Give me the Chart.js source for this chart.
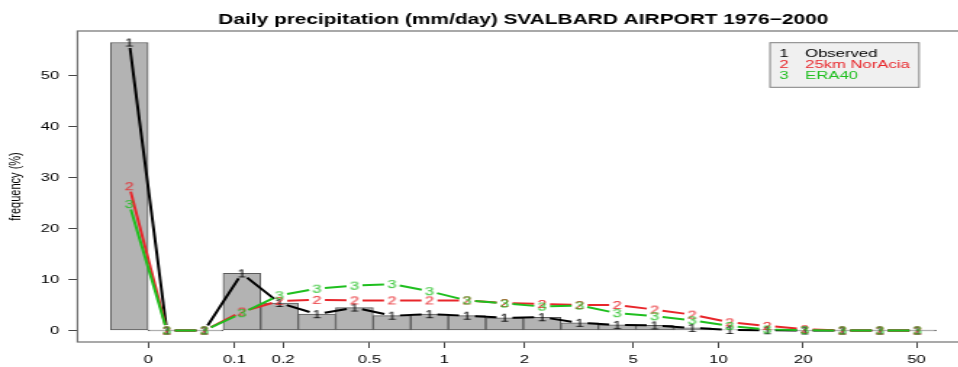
<!DOCTYPE html>
<html>
<head>
<meta charset="utf-8">
<script src="https://cdn.jsdelivr.net/npm/chart.js@4"></script>
<style>
  html, body { margin: 0; padding: 0; overflow: hidden; background: #fff; }
  /* the original R png was stretched sideways, so the whole chart is too */
  #wrap { width: 680px; height: 367px; transform-origin: 0 0; transform: scaleX(1.45); }
</style>
</head>
<body>
<div id="wrap"><canvas id="precip-chart" width="680" height="367"></canvas></div>
<script>
// precipitation bins, plotted by bin number
const bins = [0, 1, 2, 3, 4, 5, 6, 7, 8, 9, 10, 11, 12, 13, 14, 15, 16, 17, 18, 19, 20, 21];
const observed = [56.5, 0, 0, 11.2, 5.4, 3.2, 4.5, 2.9, 3.2, 2.9, 2.5, 2.6, 1.5, 1.1, 1.0, 0.5, 0.1, 0.05, 0, 0, 0, 0];
const norAcia = [28.3, 0, 0, 3.7, 5.8, 6.0, 5.9, 5.9, 5.9, 5.9, 5.4, 5.2, 5.0, 5.0, 4.1, 3.1, 1.6, 0.9, 0.25, 0, 0, 0];
const era40 = [24.8, 0, 0, 3.4, 6.9, 8.2, 8.8, 9.1, 7.7, 5.9, 5.3, 4.7, 4.9, 3.4, 2.8, 2.0, 0.9, 0.2, 0.05, 0, 0, 0];
const seriesNames = ['Observed', '25km NorAcia', 'ERA40'];

// tick labels (mm/day) and where they fall on the bin axis
const xTickAt = [0.5, 2.8, 4.1, 6.4, 8.4, 10.53, 13.43, 15.7, 17.96, 20.98];
const xTickLabels = ['0', '0.1', '0.2', '0.5', '1', '2', '5', '10', '20', '50'];
const yTicks = [0, 10, 20, 30, 40, 50];

const FONT = '"Liberation Sans", Arial, Helvetica, sans-serif';

// R-style plot symbols: the digits 1, 2, 3
function digitMarker(digit, color) {
  const c = document.createElement('canvas');
  c.width = 12;
  c.height = 14;
  const g = c.getContext('2d');
  g.font = '11.5px ' + FONT;
  g.fillStyle = color;
  g.textAlign = 'center';
  g.textBaseline = 'middle';
  g.fillText(digit, 6, 7.5);
  return c;
}

// type="b" lines stop short of each symbol
const gapAroundPoints = (ctx) => {
  const len = Math.hypot(ctx.p1.x - ctx.p0.x, ctx.p1.y - ctx.p0.y);
  const gap = Math.min(5.5, len / 2);
  return [0, gap, len - 2 * gap, gap];
};

const asPoints = (values) => values.map((v, i) => ({ x: bins[i], y: v }));

// R pads the axis range by 4%
const xPad = 0.04 * (bins.length);
const xMin = -0.5 - xPad;
const xMax = bins.length - 0.5 + xPad;
const yTop = Math.max(...observed);
const yMin = -0.04 * yTop;
const yMax = yTop * 1.04;

const colors = ['#000000', '#e8262b', '#1fbf1f'];
const seriesValues = [observed, norAcia, era40];

const lineSets = seriesValues.map((vals, k) => ({
  type: 'line',
  label: seriesNames[k],
  data: asPoints(vals),
  borderColor: colors[k],
  borderWidth: 2,
  pointStyle: digitMarker(String(k + 1), colors[k]),
  pointRadius: 6,
  fill: false,
  tension: 0,
  order: 2 - k,
  segment: { borderDash: gapAroundPoints },
}));

const frameAndLegend = {
  id: 'frameAndLegend',
  afterDraw(chart) {
    const { ctx, chartArea: a } = chart;
    ctx.save();
    ctx.strokeStyle = '#707070';
    ctx.lineWidth = 1.2;
    ctx.strokeRect(a.left, a.top, a.right - a.left, a.bottom - a.top);

    // legend box in the top right corner of the plot
    const bx = a.right - 137.3, by = a.top + 11.7, bw = 102.8, bh = 44.6;
    ctx.fillStyle = '#f0f0f0';
    ctx.fillRect(bx, by, bw, bh);
    ctx.strokeStyle = '#808080';
    ctx.lineWidth = 1;
    ctx.strokeRect(bx, by, bw, bh);
    ctx.font = '11.5px ' + FONT;
    ctx.textBaseline = 'middle';
    lineSets.forEach((ds, k) => {
      const y = by + 11.3 + k * 11;
      ctx.fillStyle = ds.borderColor;
      ctx.textAlign = 'center';
      ctx.fillText(String(k + 1), bx + 9.7, y);
      ctx.textAlign = 'left';
      ctx.fillText(ds.label, bx + 24.2, y);
    });
    ctx.restore();
  }
};

new Chart(document.getElementById('precip-chart'), {
  type: 'bar',
  data: {
    datasets: [
      {
        label: 'Observed bars',
        data: asPoints(observed),
        backgroundColor: '#b3b3b3',
        borderColor: '#5a5a5a',
        borderWidth: 1,
        borderSkipped: false,
        barPercentage: 1,
        categoryPercentage: 1,
        minBarLength: 1,
        order: 3,
      },
      ...lineSets,
    ],
  },
  options: {
    responsive: false,
    animation: false,
    devicePixelRatio: 1,
    layout: { padding: { left: 0, right: 680 - 668.35, top: 0, bottom: 0 } },
    plugins: {
      legend: { display: false },
      tooltip: { enabled: false },
      title: {
        display: true,
        fullSize: false,
        text: 'Daily precipitation (mm/day) SVALBARD AIRPORT 1976\u22122000',
        color: '#000',
        font: { family: FONT, size: 14.4, weight: 'bold', lineHeight: 1.2 },
        padding: { top: 11.5, bottom: 2.22 },
      },
    },
    scales: {
      x: {
        type: 'linear',
        min: xMin,
        max: xMax,
        offset: false,
        grid: { drawOnChartArea: false, drawTicks: true, tickLength: 6, tickColor: '#444', offset: false },
        border: { display: false },
        afterBuildTicks: (s) => { s.ticks = xTickAt.map((v) => ({ value: v })); },
        afterFit: (s) => { s.height = 25; },
        ticks: {
          autoSkip: false,
          maxRotation: 0,
          padding: 4.6,
          color: '#000',
          font: { family: FONT, size: 11.5 },
          callback: (v, i) => xTickLabels[i],
        },
      },
      y: {
        min: yMin,
        max: yMax,
        grid: { drawOnChartArea: false, drawTicks: true, tickLength: 6.3, tickColor: '#444' },
        border: { display: false },
        afterBuildTicks: (s) => { s.ticks = yTicks.map((v) => ({ value: v })); },
        afterFit: (s) => { s.width = 53.45; },
        ticks: { padding: 6.3, color: '#000', font: { family: FONT, size: 11.5 } },
        title: {
          display: true,
          text: 'frequency (%)',
          color: '#000',
          font: { family: FONT, size: 11 },
          padding: { top: 4.6, bottom: 0 },
        },
      },
    },
  },
  plugins: [frameAndLegend],
});
</script>
</body>
</html>
